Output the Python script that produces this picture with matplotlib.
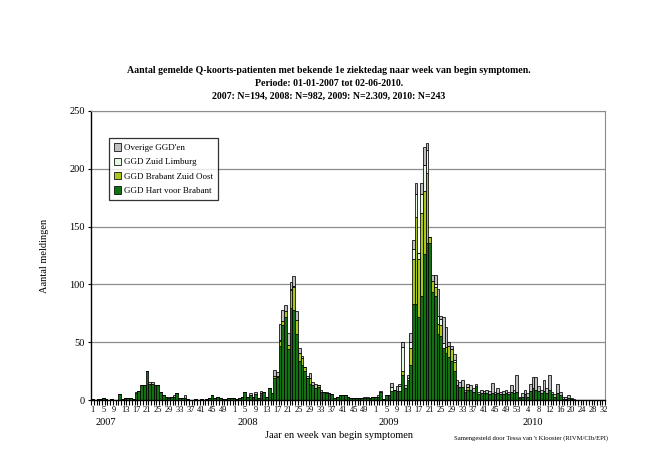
import matplotlib
matplotlib.use("Agg")
import matplotlib.pyplot as plt
import numpy as np

plt.rcParams['font.family'] = ['Liberation Serif', 'DejaVu Serif']

# weekly counts per GGD region, 2007 wk1 .. 2010 wk32
hart_2007 = [1, 0, 1, 1, 2, 1, 0, 1, 0, 0, 5, 1, 2, 2, 2, 1, 6, 8, 13, 13,
             25, 14, 14, 13, 13, 7, 4, 3, 2, 3, 3, 6, 2, 2, 2, 1, 0, 0, 1, 0,
             1, 0, 1, 2, 4, 2, 3, 2, 1, 1, 2, 2]
hart_2008 = [2, 1, 2, 3, 7, 3, 4, 3, 5, 2, 6, 7, 3, 10, 6, 19, 20, 47, 65, 72,
             44, 80, 78, 57, 34, 30, 25, 19, 14, 13, 10, 11, 7, 7, 6, 6, 5, 2, 3, 4,
             4, 4, 3, 2, 2, 2, 2, 2, 2, 2, 2, 3]
hart_2009 = [3, 3, 7, 1, 4, 4, 8, 9, 8, 8, 22, 10, 17, 30, 83, 83, 72, 90, 126, 136,
             136, 93, 90, 57, 55, 45, 41, 37, 34, 25, 13, 11, 11, 7, 9, 9, 7, 12, 5, 6,
             6, 6, 5, 6, 5, 6, 5, 5, 6, 5, 7, 6, 7]
hart_2010 = [2, 3, 5, 3, 8, 10, 9, 8, 6, 8, 6, 9, 5, 3, 6, 4, 1, 1, 2, 1,
             0, 0, 0, 0, 0, 0, 0, 0, 0, 0, 0, 0]

bzo_2007 = [0] * 52
bzo_2008 = [0, 0, 0, 0, 0, 0, 0, 0, 0, 0, 0, 0, 0, 0, 0, 2, 1, 4, 3, 5,
            4, 15, 20, 12, 7, 6, 4, 0, 5, 0, 0, 2, 0, 0, 0, 0, 0, 0, 0, 0,
            0, 0, 0, 0, 0, 0, 0, 0, 0, 0, 0, 0]
bzo_2009 = [0, 0, 0, 0, 0, 0, 0, 0, 0, 0, 3, 0, 0, 15, 39, 75, 50, 72, 55, 60,
            5, 10, 8, 9, 10, 0, 5, 10, 10, 8, 0, 0, 0, 0, 2, 0, 0, 0, 0, 0,
            0, 0, 0, 0, 0, 0, 0, 0, 0, 0, 0, 0, 0]
bzo_2010 = [0] * 32

zl_2007 = [0] * 52
zl_2008 = [0, 0, 0, 0, 0, 0, 0, 0, 0, 0, 0, 0, 0, 0, 0, 0, 0, 1, 0, 0,
           0, 1, 1, 0, 0, 0, 0, 0, 0, 0, 0, 0, 0, 0, 0, 0, 0, 0, 0, 0,
           0, 0, 0, 0, 0, 0, 0, 0, 0, 0, 0, 0]
zl_2009 = [0, 0, 0, 0, 0, 0, 3, 0, 0, 4, 21, 0, 2, 5, 9, 20, 5, 16, 22, 20,
           0, 0, 2, 7, 5, 4, 0, 0, 0, 2, 0, 0, 0, 0, 0, 0, 0, 0, 0, 0,
           0, 0, 0, 0, 0, 0, 0, 0, 0, 0, 0, 0, 0]
zl_2010 = [0] * 32

ov_2007 = [0, 0, 0, 0, 0, 0, 0, 0, 0, 0, 0, 0, 0, 0, 0, 0, 1, 0, 0, 0,
           0, 2, 2, 0, 0, 0, 0, 0, 1, 0, 1, 0, 0, 0, 2, 0, 0, 0, 0, 0,
           0, 0, 0, 0, 0, 0, 0, 0, 0, 0, 0, 0]
ov_2008 = [0, 0, 0, 0, 0, 0, 2, 0, 2, 0, 2, 0, 0, 0, 0, 5, 3, 14, 10, 5,
           10, 6, 8, 8, 4, 2, 0, 2, 4, 3, 4, 0, 2, 0, 1, 0, 0, 0, 0, 0,
           0, 0, 0, 0, 0, 0, 0, 0, 1, 1, 0, 0]
ov_2009 = [0, 1, 1, 0, 0, 0, 4, 0, 4, 2, 4, 3, 3, 8, 7, 10, 0, 10, 16, 6,
           0, 5, 8, 23, 3, 23, 17, 3, 3, 5, 4, 5, 6, 2, 3, 4, 3, 2, 2, 3,
           2, 3, 3, 9, 2, 4, 2, 3, 3, 2, 6, 3, 15]
ov_2010 = [1, 3, 4, 3, 6, 10, 11, 4, 3, 9, 4, 13, 2, 2, 8, 3, 2, 2, 2, 1,
           1, 0, 0, 0, 0, 0, 0, 0, 0, 0, 0, 0]

years = ['2007', '2008', '2009', '2010']
weeks_per_year = [52, 52, 53, 32]

series = [
    ("GGD Hart voor Brabant", hart_2007 + hart_2008 + hart_2009 + hart_2010, '#127212'),
    ("GGD Brabant Zuid Oost", bzo_2007 + bzo_2008 + bzo_2009 + bzo_2010, '#A8C81E'),
    ("GGD Zuid Limburg", zl_2007 + zl_2008 + zl_2009 + zl_2010, '#E4F8E2'),
    ("Overige GGD'en", ov_2007 + ov_2008 + ov_2009 + ov_2010, '#C0C0C0'),
]

week_nums = []
for nw in weeks_per_year:
    week_nums += list(range(1, nw + 1))
n = len(week_nums)
x = np.arange(n)

fig = plt.figure(figsize=(6.65, 4.74), dpi=100)
ax = fig.add_axes([0.137, 0.156, 0.773, 0.610])

bottom = np.zeros(n)
handles = []
for name, vals, col in series:
    vals = np.array(vals, dtype=float)
    b = ax.bar(x, vals, width=1.0, bottom=bottom, color=col,
               edgecolor='black', linewidth=0.55, label=name)
    handles.append(b)
    bottom += vals

ax.set_xlim(-0.5, n - 0.5)
ax.set_ylim(0, 250)
ax.set_yticks(np.arange(0, 251, 50))
ax.yaxis.grid(True, color='#8c8c8c', linewidth=0.9)
ax.set_axisbelow(True)
ax.tick_params(axis='y', labelsize=7.5, length=2.5, pad=2)

lab_pos = x[::4]
ax.set_xticks(lab_pos)
ax.set_xticklabels([str(week_nums[i]) for i in lab_pos], fontsize=6)
ax.set_xticks(np.arange(-0.5, n, 1), minor=True)
ax.tick_params(axis='x', which='major', length=0, pad=4)
ax.tick_params(axis='x', which='minor', length=3.5, width=0.8)

for s in ['top', 'right']:
    ax.spines[s].set_color('#8c8c8c')
ax.spines['left'].set_linewidth(1.0)
ax.spines['bottom'].set_linewidth(1.0)

# year labels under the week numbers
start = 0
for yr, nw in zip(years, weeks_per_year):
    ax.text(start + 5, -0.077, yr, transform=ax.get_xaxis_transform(),
            ha='center', va='center', fontsize=7.5)
    start += nw

leg = ax.legend(handles[::-1], [h.get_label() for h in handles[::-1]],
                loc='upper left', bbox_to_anchor=(0.035, 0.905), fontsize=6.5,
                frameon=True, fancybox=False, edgecolor='black',
                handlelength=0.8, handleheight=0.9, handletextpad=0.25,
                borderpad=0.55, labelspacing=0.6, borderaxespad=0)
leg.get_frame().set_linewidth(0.9)

ax.set_ylabel("Aantal meldingen", fontsize=7.5, labelpad=15)
fig.text(0.51, 0.082, "Jaar en week van begin symptomen", ha='center',
         va='center', fontsize=7.5)
fig.text(0.915, 0.075, "Samengesteld door Tessa van 't Klooster (RIVM/CIb/EPI)",
         ha='right', va='center', fontsize=4.8)

fig.text(0.495, 0.852, "Aantal gemelde Q-koorts-patienten met bekende 1e ziektedag naar week van begin symptomen.",
         ha='center', va='center', fontsize=7.1, fontweight='bold')
fig.text(0.495, 0.824, "Periode: 01-01-2007 tot 02-06-2010.",
         ha='center', va='center', fontsize=7.1, fontweight='bold')
fig.text(0.495, 0.797, "2007: N=194, 2008: N=982, 2009: N=2.309, 2010: N=243",
         ha='center', va='center', fontsize=7.1, fontweight='bold')

fig.savefig("out.png", dpi=100)
